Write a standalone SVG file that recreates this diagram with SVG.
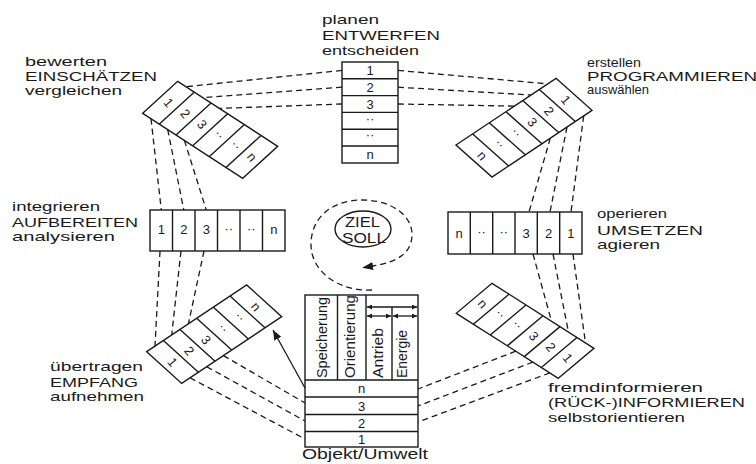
<svg xmlns="http://www.w3.org/2000/svg" width="756" height="464" viewBox="0 0 756 464">
<style>
.box{fill:none;stroke:#1a1a1a;stroke-width:1.4}
.dash{fill:none;stroke:#1a1a1a;stroke-width:1.3;stroke-dasharray:6 4}
.solid{fill:none;stroke:#1a1a1a;stroke-width:1.3}
.lbl{font-family:"Liberation Sans",Arial,sans-serif;font-size:13px;fill:#1a1a1a}
.num{font-family:"Liberation Sans",Arial,sans-serif;font-size:13px;fill:#1a1a1a;text-anchor:middle}
.vt{font-family:"Liberation Sans",Arial,sans-serif;font-size:14px;fill:#1a1a1a}
</style>
<defs>
<marker id="ah" viewBox="0 0 10 8" refX="10" refY="4" markerWidth="10" markerHeight="8" markerUnits="userSpaceOnUse" orient="auto"><path d="M0,0 L10,4 L0,8 z" fill="#1a1a1a"/></marker>
<marker id="sh" viewBox="0 0 6 6" refX="6" refY="3" markerWidth="5" markerHeight="5" markerUnits="userSpaceOnUse" orient="auto-start-reverse"><path d="M0,0 L6,3 L0,6 z" fill="#1a1a1a"/></marker>
<marker id="sp" viewBox="0 0 11 8" refX="0" refY="4" markerWidth="11" markerHeight="8" markerUnits="userSpaceOnUse" orient="auto"><path d="M0,0 L11,4 L0,8 z" fill="#1a1a1a"/></marker>
</defs>
<rect width="756" height="464" fill="#ffffff"/>

<g id="connectors">
<path class="dash" d="M342,70.4 L186,86.7 M342,87.2 L202.7,97.6 M342,104 L219.4,108.4"/>
<path class="dash" d="M398,70.4 L547.7,83.9 M398,87.2 L531,95 M398,104 L514.3,106.1"/>
<path class="dash" d="M151,118.7 L161.3,210 M167.7,129.5 L183.8,210 M184.4,140.4 L206.3,210"/>
<path class="dash" d="M160,251 L155,346.1 M181,251 L171.7,335 M204,251 L188.4,323.9"/>
<path class="dash" d="M190,377.8 L305,439 M206.7,366.7 L305,421 M223.4,355.6 L305,403"/>
<path class="dash" d="M583.7,115.9 L571,212 M567,127 L550,212 M550.3,138.1 L529,212"/>
<path class="dash" d="M573,254 L585.5,342.9 M553,254 L568.5,332.1 M533,254 L551.5,321.2"/>
<path class="dash" d="M549.8,372.9 L418,422 M532.8,362.1 L418,406 M515.8,351.2 L418,389"/>
<line class="solid" x1="305" y1="388" x2="273" y2="330" marker-end="url(#ah)"/>
<path class="dash" d="M372,290 C340,292 310,272 311,243 C312,214 336,200 362,200 C392,200 413,216 412,236 C411,253 398,262 373,266" marker-end="url(#sp)"/>
</g>

<g id="ziel">
<ellipse class="box" cx="363" cy="229" rx="28" ry="18"/>
<text class="lbl" style="font-size:14px" x="345" y="227" textLength="35" lengthAdjust="spacingAndGlyphs">ZIEL</text>
<text class="lbl" style="font-size:14px" x="342" y="243" textLength="44" lengthAdjust="spacingAndGlyphs">SOLL</text>
</g>

<g id="entwerfen">
<rect class="box" x="342" y="62" width="56" height="101"/>
<path class="box" d="M342,78.8 H398 M342,95.6 H398 M342,112.4 H398 M342,129.2 H398 M342,146 H398"/>
<text class="num" x="370" y="75">1</text>
<text class="num" x="370" y="91.8">2</text>
<text class="num" x="370" y="108.6">3</text>
<text class="num" x="370" y="122.5">··</text>
<text class="num" x="370" y="139.3">··</text>
<text class="num" x="370" y="159">n</text>
<text class="lbl" x="322" y="24" textLength="57" lengthAdjust="spacingAndGlyphs">planen</text>
<text class="lbl" x="322" y="39.5" textLength="118" lengthAdjust="spacingAndGlyphs">ENTWERFEN</text>
<text class="lbl" x="322" y="55" textLength="97" lengthAdjust="spacingAndGlyphs">entscheiden</text>
</g>

<g id="einschaetzen">
<polygon class="box" points="142.7,113.3 177.7,81.3 277.7,146.3 242.7,178.3"/>
<path class="box" d="M159.4,124.1 L194.4,92.1 M176,135 L211,103 M192.7,145.8 L227.7,113.8 M209.4,156.6 L244.4,124.6 M226,167.5 L261,135.5"/>
<text class="num" transform="translate(168.5,102.7) rotate(50)" y="4.5">1</text>
<text class="num" transform="translate(185.2,113.5) rotate(50)" y="4.5">2</text>
<text class="num" transform="translate(201.9,124.4) rotate(50)" y="4.5">3</text>
<text class="num" transform="translate(218.5,135.2) rotate(50)" y="3">··</text>
<text class="num" transform="translate(235.2,146) rotate(50)" y="3">··</text>
<text class="num" transform="translate(251.9,156.9) rotate(50)" y="4.5">n</text>
<text class="lbl" x="25" y="66" textLength="82" lengthAdjust="spacingAndGlyphs">bewerten</text>
<text class="lbl" x="25" y="80.5" textLength="132" lengthAdjust="spacingAndGlyphs">EINSCHÄTZEN</text>
<text class="lbl" x="25" y="94.5" textLength="97" lengthAdjust="spacingAndGlyphs">vergleichen</text>
</g>

<g id="programmieren">
<polygon class="box" points="556,78.3 592,110.3 492,177 456,145"/>
<path class="box" d="M539.3,89.4 L575.3,121.4 M522.7,100.5 L558.7,132.5 M506,111.7 L542,143.7 M489.3,122.8 L525.3,154.8 M472.7,133.9 L508.7,165.9"/>
<text class="num" transform="translate(565.7,99.9) rotate(50)" y="4.5">1</text>
<text class="num" transform="translate(549,111) rotate(50)" y="4.5">2</text>
<text class="num" transform="translate(532.3,122.1) rotate(50)" y="4.5">3</text>
<text class="num" transform="translate(515.7,133.2) rotate(50)" y="3">··</text>
<text class="num" transform="translate(499,144.3) rotate(50)" y="3">··</text>
<text class="num" transform="translate(482.3,155.5) rotate(50)" y="4.5">n</text>
<text class="lbl" x="587" y="66.5" textLength="54" lengthAdjust="spacingAndGlyphs">erstellen</text>
<text class="lbl" x="587" y="80.5" textLength="170" lengthAdjust="spacingAndGlyphs">PROGRAMMIEREN</text>
<text class="lbl" x="587" y="94" textLength="62" lengthAdjust="spacingAndGlyphs">auswählen</text>
</g>

<g id="aufbereiten">
<rect class="box" x="150" y="210" width="135" height="41"/>
<path class="box" d="M172.5,210 V251 M195,210 V251 M217.5,210 V251 M240,210 V251 M262.5,210 V251"/>
<text class="num" x="161.25" y="234">1</text>
<text class="num" x="183.75" y="234">2</text>
<text class="num" x="206.25" y="234">3</text>
<text class="num" x="228.75" y="233">··</text>
<text class="num" x="251.25" y="233">··</text>
<text class="num" x="273.75" y="234">n</text>
<text class="lbl" x="12" y="211" textLength="88" lengthAdjust="spacingAndGlyphs">integrieren</text>
<text class="lbl" x="12" y="226.5" textLength="126" lengthAdjust="spacingAndGlyphs">AUFBEREITEN</text>
<text class="lbl" x="12" y="240.5" textLength="103" lengthAdjust="spacingAndGlyphs">analysieren</text>
</g>

<g id="umsetzen">
<rect class="box" x="448" y="212" width="134" height="42"/>
<path class="box" d="M470.3,212 V254 M492.7,212 V254 M515,212 V254 M537.3,212 V254 M559.7,212 V254"/>
<text class="num" x="459.2" y="237.5">n</text>
<text class="num" x="481.5" y="236">··</text>
<text class="num" x="503.8" y="236">··</text>
<text class="num" x="526.2" y="237.5">3</text>
<text class="num" x="548.5" y="237.5">2</text>
<text class="num" x="570.8" y="237.5">1</text>
<text class="lbl" x="597" y="218" textLength="70" lengthAdjust="spacingAndGlyphs">operieren</text>
<text class="lbl" x="597" y="234.5" textLength="106" lengthAdjust="spacingAndGlyphs">UMSETZEN</text>
<text class="lbl" x="597" y="249" textLength="63" lengthAdjust="spacingAndGlyphs">agieren</text>
</g>

<g id="empfang">
<polygon class="box" points="146.7,351.7 181.7,383.4 281.7,316.7 246.7,285"/>
<path class="box" d="M163.4,340.6 L198.4,372.3 M180,329.5 L215,361.2 M196.7,318.3 L231.7,350 M213.4,307.2 L248.4,338.9 M230,296.1 L265,327.8"/>
<text class="num" transform="translate(172.5,362) rotate(50)" y="4.5">1</text>
<text class="num" transform="translate(189.2,350.9) rotate(50)" y="4.5">2</text>
<text class="num" transform="translate(205.9,339.8) rotate(50)" y="4.5">3</text>
<text class="num" transform="translate(222.5,328.7) rotate(50)" y="3">··</text>
<text class="num" transform="translate(239.2,317.6) rotate(50)" y="3">··</text>
<text class="num" transform="translate(255.9,306.5) rotate(50)" y="4.5">n</text>
<text class="lbl" x="50" y="371" textLength="93" lengthAdjust="spacingAndGlyphs">übertragen</text>
<text class="lbl" x="50" y="386.5" textLength="88" lengthAdjust="spacingAndGlyphs">EMPFANG</text>
<text class="lbl" x="50" y="401" textLength="94" lengthAdjust="spacingAndGlyphs">aufnehmen</text>
</g>

<g id="rueckinformieren">
<polygon class="box" points="558.3,378.3 594,348.3 492,283.3 456.3,313.3"/>
<path class="box" d="M541.3,367.5 L577,337.5 M524.3,356.6 L560,326.6 M507.3,345.8 L543,315.8 M490.3,335 L526,305 M473.3,324.2 L509,294.2"/>
<text class="num" transform="translate(567.7,357.9) rotate(50)" y="4.5">1</text>
<text class="num" transform="translate(550.7,347) rotate(50)" y="4.5">2</text>
<text class="num" transform="translate(533.7,336.2) rotate(50)" y="4.5">3</text>
<text class="num" transform="translate(516.7,325.4) rotate(50)" y="3">··</text>
<text class="num" transform="translate(499.7,314.6) rotate(50)" y="3">··</text>
<text class="num" transform="translate(482.7,303.7) rotate(50)" y="4.5">n</text>
<text class="lbl" x="548" y="392" textLength="155" lengthAdjust="spacingAndGlyphs">fremdinformieren</text>
<text class="lbl" x="548" y="407" textLength="197" lengthAdjust="spacingAndGlyphs">(RÜCK-)INFORMIEREN</text>
<text class="lbl" x="548" y="422" textLength="137" lengthAdjust="spacingAndGlyphs">selbstorientieren</text>
</g>

<g id="objekt">
<rect class="box" x="305" y="295" width="113" height="152"/>
<path class="box" d="M337.5,295 V380 M366,295 V380 M392,307 V380 M305,380 H418 M305,397 H418 M305,414.5 H418 M305,431.5 H418"/>
<line class="solid" x1="367" y1="307" x2="417" y2="307" marker-start="url(#sh)" marker-end="url(#sh)"/>
<line class="solid" x1="367" y1="316" x2="391" y2="316" marker-start="url(#sh)" marker-end="url(#sh)"/>
<line class="solid" x1="393" y1="316" x2="417" y2="316" marker-start="url(#sh)" marker-end="url(#sh)"/>
<text class="vt" transform="translate(326.5,378) rotate(-90)" textLength="81" lengthAdjust="spacingAndGlyphs">Speicherung</text>
<text class="vt" transform="translate(354.5,378) rotate(-90)" textLength="83" lengthAdjust="spacingAndGlyphs">Orientierung</text>
<text class="vt" transform="translate(383,378) rotate(-90)" textLength="50" lengthAdjust="spacingAndGlyphs">Antrieb</text>
<text class="vt" transform="translate(406.5,378) rotate(-90)" textLength="48" lengthAdjust="spacingAndGlyphs">Energie</text>
<text class="num" x="361.5" y="393">n</text>
<text class="num" x="361.5" y="410.5">3</text>
<text class="num" x="361.5" y="427.5">2</text>
<text class="num" x="361.5" y="443.5">1</text>
<text class="lbl" style="font-size:14px" x="302" y="459" textLength="126" lengthAdjust="spacingAndGlyphs">Objekt/Umwelt</text>
</g>
</svg>
